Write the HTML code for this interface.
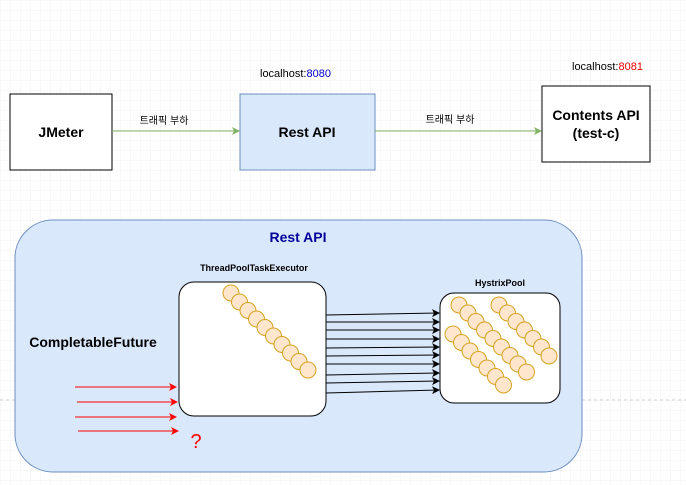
<!DOCTYPE html>
<html><head><meta charset="utf-8"><style>
html,body{margin:0;padding:0;background:#fff;}
svg{display:block;font-family:"Liberation Sans","Noto Sans CJK KR",sans-serif;}
</style></head><body>
<svg width="686" height="485" viewBox="0 0 686 485" xmlns="http://www.w3.org/2000/svg">
<defs>
<pattern id="g" width="10" height="10" patternUnits="userSpaceOnUse"><path d="M10 0H0V10" fill="none" stroke="#f0f0f0" stroke-width="1"/></pattern>
<marker id="ag" markerWidth="8" markerHeight="8" refX="7" refY="4" orient="auto" markerUnits="userSpaceOnUse"><path d="M0,0L8,4L0,8L2,4z" fill="#82b366"/></marker>
<marker id="ak" markerWidth="8" markerHeight="8" refX="7" refY="4" orient="auto" markerUnits="userSpaceOnUse"><path d="M0,0L8,4L0,8L2,4z" fill="#000"/></marker>
<marker id="ar" markerWidth="8" markerHeight="8" refX="7" refY="4" orient="auto" markerUnits="userSpaceOnUse"><path d="M0,0L8,4L0,8L2,4z" fill="#f00"/></marker>
</defs>
<rect width="686" height="485" fill="url(#g)"/>
<line x1="0" y1="400" x2="686" y2="400" stroke="#ccc" stroke-dasharray="3,3"/>

<rect x="10" y="94" width="102" height="76" fill="#fff" stroke="#000"/>
<text x="61" y="137" text-anchor="middle" font-size="14" font-weight="bold">JMeter</text>
<rect x="240" y="94" width="135" height="76" fill="#dae8fc" stroke="#6c8ebf"/>
<text x="307" y="137" text-anchor="middle" font-size="14" font-weight="bold">Rest API</text>
<rect x="542" y="86" width="108" height="76" fill="#fff" stroke="#000"/>
<text x="596" y="120" text-anchor="middle" font-size="14" font-weight="bold">Contents API</text>
<text x="596" y="138" text-anchor="middle" font-size="14" font-weight="bold">(test-c)</text>
<text x="260" y="77" font-size="11">localhost:<tspan fill="#0000cc">8080</tspan></text>
<text x="572" y="70" font-size="11">localhost:<tspan fill="#ee0000">8081</tspan></text>
<line x1="112" y1="131" x2="239" y2="131" stroke="#82b366" marker-end="url(#ag)"/>
<line x1="375" y1="131" x2="541" y2="131" stroke="#82b366" marker-end="url(#ag)"/>
<text x="164" y="124" text-anchor="middle" font-size="10">트래픽 부하</text>
<text x="450" y="123" text-anchor="middle" font-size="10">트래픽 부하</text>

<rect x="15" y="220" width="567" height="252" rx="38" fill="#dae8fc" stroke="#6c8ebf"/>
<text x="298" y="242" text-anchor="middle" font-size="14" font-weight="bold" fill="#000099">Rest API</text>
<text x="93" y="347" text-anchor="middle" font-size="14" font-weight="bold">CompletableFuture</text>

<text x="254" y="271" text-anchor="middle" font-size="9" font-weight="bold">ThreadPoolTaskExecutor</text>
<rect x="179" y="282" width="147" height="134" rx="15" fill="#fff" stroke="#000"/>
<g fill="#ffe6cc" stroke="#d6a31f">
<circle cx="231" cy="293" r="8"/><circle cx="239.5" cy="302" r="8"/><circle cx="248" cy="310.5" r="8"/><circle cx="256.5" cy="319" r="8"/><circle cx="265" cy="327.5" r="8"/><circle cx="273.5" cy="336" r="8"/><circle cx="282" cy="344.5" r="8"/><circle cx="290.5" cy="353" r="8"/><circle cx="299" cy="361.5" r="8"/><circle cx="308" cy="370" r="8"/>
</g>

<text x="500" y="286" text-anchor="middle" font-size="9" font-weight="bold">HystrixPool</text>
<rect x="440" y="293" width="120" height="110" rx="14" fill="#fff" stroke="#000"/>
<g fill="#ffe6cc" stroke="#d6a31f">
<circle cx="459" cy="305" r="8"/><circle cx="468" cy="313" r="8"/><circle cx="476" cy="321.5" r="8"/><circle cx="484.5" cy="330" r="8"/><circle cx="493" cy="338.5" r="8"/><circle cx="501.5" cy="347" r="8"/><circle cx="510" cy="355.5" r="8"/><circle cx="518" cy="364" r="8"/><circle cx="526.5" cy="372" r="8"/>
<circle cx="453" cy="334" r="8"/><circle cx="461.5" cy="342.5" r="8"/><circle cx="470" cy="351" r="8"/><circle cx="478.5" cy="359.5" r="8"/><circle cx="487" cy="368" r="8"/><circle cx="495.5" cy="376.5" r="8"/><circle cx="503.5" cy="385" r="8"/>
<circle cx="499" cy="305" r="8"/><circle cx="507.5" cy="313" r="8"/><circle cx="516" cy="321.5" r="8"/><circle cx="524.5" cy="330" r="8"/><circle cx="533" cy="338.5" r="8"/><circle cx="541.5" cy="347" r="8"/><circle cx="549" cy="356" r="8"/>
</g>
<g stroke="#000" marker-end="url(#ak)">
<line x1="326" y1="315" x2="439" y2="313"/><line x1="326" y1="322" x2="439" y2="322"/><line x1="326" y1="330" x2="439" y2="330"/><line x1="326" y1="339" x2="439" y2="339"/><line x1="326" y1="348" x2="439" y2="347"/><line x1="326" y1="356" x2="439" y2="355"/><line x1="326" y1="364" x2="439" y2="364"/><line x1="326" y1="375" x2="439" y2="373"/><line x1="326" y1="383" x2="439" y2="381"/><line x1="326" y1="393" x2="439" y2="390"/>
</g>
<g stroke="#f00" marker-end="url(#ar)">
<line x1="75" y1="387" x2="176" y2="387"/><line x1="77" y1="402" x2="177" y2="402"/><line x1="75" y1="417" x2="176" y2="417"/><line x1="78" y1="431" x2="178" y2="431"/>
</g>
<text x="196" y="448" text-anchor="middle" font-size="20" fill="#f00">?</text>
</svg>
</body></html>
